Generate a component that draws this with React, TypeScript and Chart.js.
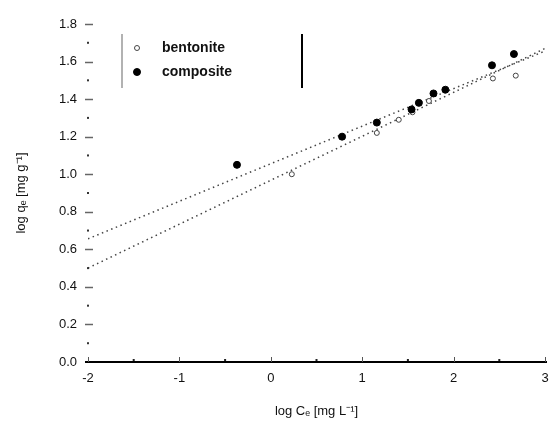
import React, { useEffect, useRef } from "react";
import { Chart, registerables } from "chart.js";

Chart.register(...registerables);

const bentoniteX = [0.23, 1.16, 1.4, 1.55, 1.73, 2.43, 2.68];
const bentoniteY = [1.0, 1.22, 1.29, 1.33, 1.39, 1.51, 1.525];
const compositeX = [-0.37, 0.78, 1.16, 1.54, 1.62, 1.78, 1.91, 2.42, 2.66];
const compositeY = [1.05, 1.2, 1.275, 1.345, 1.38, 1.43, 1.45, 1.58, 1.64];
const bentoniteFitX = [-2, 3];
const bentoniteFitY = [0.5, 1.67];
const compositeFitX = [-2, 3];
const compositeFitY = [0.656, 1.656];
const seriesLabels = ["bentonite", "composite"];
const xTitle = "log Cₑ [mg L⁻¹]";
const yTitle = "log qₑ [mg g⁻¹]";

const zip = (xs: number[], ys: number[]) => xs.map((x, i) => ({ x, y: ys[i] }));

const FONT = "'Liberation Sans', Arial, sans-serif";

const axisDecor = {
  id: "axisDecor",
  afterDatasetsDraw(chart: any) {
    const { ctx, chartArea, scales } = chart;
    const xs = scales.x;
    const ys = scales.y;
    ctx.save();
    ctx.strokeStyle = "#000";
    ctx.lineWidth = 2;
    ctx.beginPath();
    ctx.moveTo(chartArea.left - 3, chartArea.bottom);
    ctx.lineTo(chartArea.right + 2, chartArea.bottom);
    ctx.stroke();
    ctx.lineWidth = 1;
    ctx.strokeStyle = "#555";
    const xt = xs.ticks.map((t: any) => t.value);
    xt.forEach((v: number) => {
      const px = Math.round(xs.getPixelForValue(v)) + 0.5;
      ctx.beginPath();
      ctx.moveTo(px, chartArea.bottom);
      ctx.lineTo(px, chartArea.bottom - 5);
      ctx.stroke();
    });
    ctx.fillStyle = "#222";
    for (let i = 0; i < xt.length - 1; i++) {
      const px = xs.getPixelForValue((xt[i] + xt[i + 1]) / 2);
      ctx.fillRect(px - 1, chartArea.bottom - 3, 2, 2);
    }
    const yt = ys.ticks.map((t: any) => t.value);
    ctx.strokeStyle = "#666";
    ctx.lineWidth = 1.5;
    yt.forEach((v: number) => {
      if (v === 0) return;
      const py = Math.round(ys.getPixelForValue(v)) + 0.5;
      ctx.beginPath();
      ctx.moveTo(chartArea.left - 3, py);
      ctx.lineTo(chartArea.left + 5, py);
      ctx.stroke();
    });
    ctx.fillStyle = "#333";
    for (let i = 0; i < yt.length - 1; i++) {
      const py = ys.getPixelForValue((yt[i] + yt[i + 1]) / 2);
      ctx.fillRect(chartArea.left - 1, py - 1, 2, 2);
    }
    ctx.restore();
  },
};

const boxLegend = {
  id: "boxLegend",
  afterDraw(chart: any) {
    const { ctx } = chart;
    const ds = chart.data.datasets;
    ctx.save();
    const left = 122;
    const right = 302;
    const top = 34;
    const bottom = 88;
    ctx.strokeStyle = "#999";
    ctx.lineWidth = 1.5;
    ctx.beginPath();
    ctx.moveTo(left, top);
    ctx.lineTo(left, bottom);
    ctx.stroke();
    ctx.strokeStyle = "#000";
    ctx.lineWidth = 2;
    ctx.beginPath();
    ctx.moveTo(right, top);
    ctx.lineTo(right, bottom);
    ctx.stroke();
    const rows = [ds[0], ds[1]];
    rows.forEach((d: any, i: number) => {
      const cy = 48 + i * 24;
      ctx.beginPath();
      ctx.arc(137, cy, d.pointRadius, 0, Math.PI * 2);
      ctx.fillStyle = d.pointBackgroundColor;
      ctx.fill();
      ctx.lineWidth = d.pointBorderWidth;
      ctx.strokeStyle = d.pointBorderColor;
      ctx.stroke();
      ctx.fillStyle = "#111";
      ctx.font = `bold 14px ${FONT}`;
      ctx.textBaseline = "middle";
      ctx.textAlign = "left";
      ctx.fillText(d.label, 162, cy);
    });
    ctx.restore();
  },
};

export default function App() {
  const ref = useRef<HTMLCanvasElement | null>(null);
  useEffect(() => {
    if (!ref.current) return;
    const chart = new Chart(ref.current, {
      type: "scatter",
      data: {
        datasets: [
          {
            label: seriesLabels[0],
            data: zip(bentoniteX, bentoniteY),
            pointRadius: 2.5,
            pointBackgroundColor: "#fff",
            pointBorderColor: "#444",
            pointBorderWidth: 1,
            order: 1,
          },
          {
            label: seriesLabels[1],
            data: zip(compositeX, compositeY),
            pointRadius: 3.5,
            pointBackgroundColor: "#000",
            pointBorderColor: "#000",
            pointBorderWidth: 1,
            order: 0,
          },
          {
            label: "bentonite fit",
            data: zip(bentoniteFitX, bentoniteFitY),
            showLine: true,
            pointRadius: 0,
            borderColor: "#444",
            borderWidth: 1.5,
            borderDash: [1.5, 3.5],
            order: 2,
          },
          {
            label: "composite fit",
            data: zip(compositeFitX, compositeFitY),
            showLine: true,
            pointRadius: 0,
            borderColor: "#444",
            borderWidth: 1.5,
            borderDash: [1.5, 3.5],
            order: 2,
          },
        ],
      },
      options: {
        animation: false,
        responsive: true,
        maintainAspectRatio: false,
        layout: { padding: { left: 0, right: 3, top: 24, bottom: 6 } },
        plugins: {
          legend: { display: false },
          tooltip: { enabled: false },
        },
        scales: {
          x: {
            type: "linear",
            min: -2,
            max: 3,
            ticks: {
              stepSize: 1,
              color: "#111",
              font: { family: FONT, size: 13 },
              padding: 9,
              maxRotation: 0,
            },
            grid: { display: false, drawTicks: false },
            border: { display: false },
            title: {
              display: true,
              text: xTitle,
              color: "#111",
              font: { family: FONT, size: 13 },
              padding: { top: 0, bottom: 0 },
            },
            afterFit(scale: any) {
              scale.height = 57;
              scale.paddingLeft = 0;
              scale.paddingRight = 0;
            },
          },
          y: {
            type: "linear",
            min: 0,
            max: 1.8,
            ticks: {
              stepSize: 0.2,
              color: "#111",
              font: { family: FONT, size: 13 },
              padding: 11,
              callback: (v: any) => Number(v).toFixed(1),
            },
            grid: { display: false, drawTicks: false },
            border: { display: false },
            title: {
              display: true,
              text: yTitle,
              color: "#111",
              font: { family: FONT, size: 13 },
              padding: { top: 14, bottom: 0 },
            },
            afterFit(scale: any) {
              scale.width = 88;
              scale.paddingTop = 0;
              scale.paddingBottom = 0;
            },
          },
        },
      },
      plugins: [axisDecor, boxLegend],
    });
    return () => chart.destroy();
  }, []);
  return (
    <div style={{ position: "fixed", left: 0, top: 0, width: 550, height: 425, background: "#fff" }}>
      <canvas ref={ref} />
    </div>
  );
}
